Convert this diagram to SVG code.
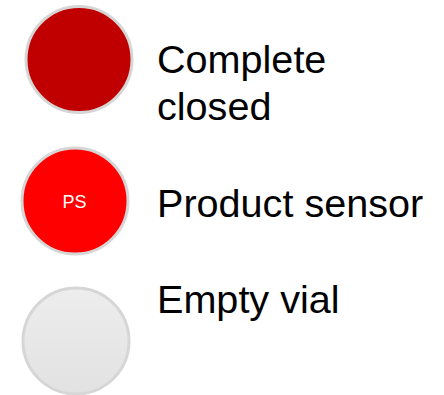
<svg xmlns="http://www.w3.org/2000/svg" width="444" height="395" viewBox="0 0 444 395">
<defs>
<linearGradient id="gEmpty" x1="0" y1="0" x2="0" y2="1">
<stop offset="0" stop-color="#ededed"/>
<stop offset="1" stop-color="#e2e2e2"/>
</linearGradient>
</defs>
<style>
.lbl{font-family:"Liberation Sans",Arial,sans-serif;font-size:39.6px;fill:#000}
.ring{stroke:#d6d6d6;stroke-width:3}
</style>
<rect width="444" height="395" fill="#fff"/>
<g id="complete">
<circle class="ring" cx="79" cy="59.5" r="53" fill="#c00000"/>
<text class="lbl" x="157" y="73">Complete</text>
<text class="lbl" x="157" y="120">closed</text>
</g>
<g id="product-sensor">
<circle class="ring" cx="75" cy="201" r="53" fill="#ff0000"/>
<text x="74.5" y="208" text-anchor="middle" font-family="Liberation Sans,Arial,sans-serif" font-size="18" fill="#fff">PS</text>
<text class="lbl" x="157" y="217">Product sensor</text>
</g>
<g id="empty-vial">
<circle class="ring" cx="76" cy="341" r="53" fill="url(#gEmpty)"/>
<text class="lbl" x="157" y="313">Empty vial</text>
</g>
<g id="connectors"/>
</svg>
